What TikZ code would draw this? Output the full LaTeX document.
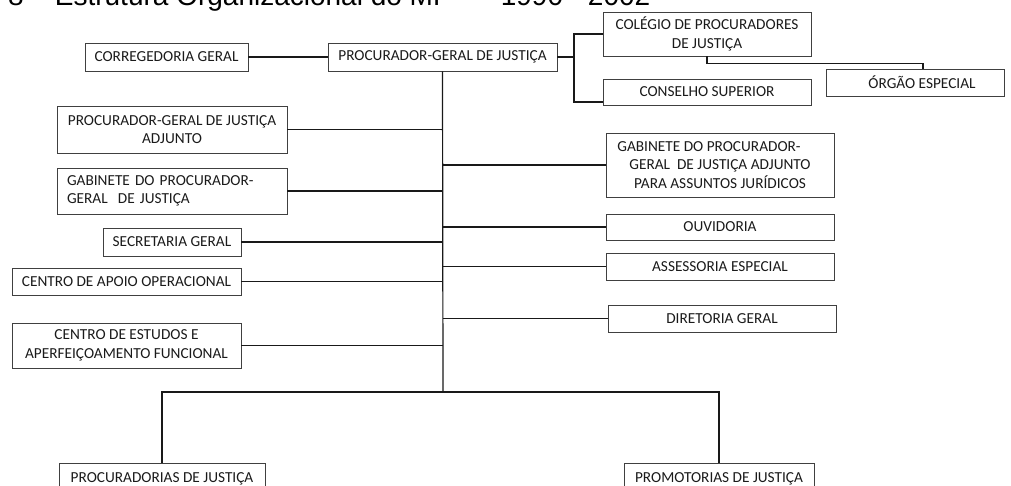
\documentclass[tikz,border=0pt]{standalone}
\usepackage{fontspec}
\setmainfont{Carlito}
\newfontfamily\titlefont{Liberation Sans}
\definecolor{boxline}{HTML}{404040}
\definecolor{inktext}{HTML}{1A1A1A}
\tikzset{
  orgbox/.style={draw=boxline, line width=0.9pt, inner sep=0pt, align=center,
    text=inktext, font=\fontsize{15.3}{18.5}\selectfont},
  conn/.style={draw=black!90, line width=1.2pt},
}
\newcommand{\orgnode}[6]{% name, cx, cy, width, height, text
  \node[orgbox, minimum width=#4pt, minimum height=#5pt] (#1) at (#2,#3) {#6};}
\begin{document}
\begin{tikzpicture}[x=1pt,y=-1pt]
\useasboundingbox (0,0) rectangle (1011,486);
\clip (0,0) rectangle (1011,486);

% heading (only its lower part lies on the page)
\node[anchor=base west, inner sep=0pt, text=black,
      font=\titlefont\fontsize{28}{30}\selectfont] (title) at (8,6)
  {8 – Estrutura Organizacional do MP\hspace{0.6em}–\hspace{0.6em}1990 - 2002};

% top level
\orgnode{corr}{166.5}{57}{163}{28}{CORREGEDORIA GERAL}
\orgnode{pgj}{442.5}{57}{229}{28}{PROCURADOR-GERAL DE JUSTIÇA}
\orgnode{col}{707}{34}{208}{44}{COLÉGIO DE PROCURADORES\\DE JUSTIÇA}
\orgnode{con}{707}{92}{208}{26}{CONSELHO SUPERIOR}
\orgnode{org}{915}{82.5}{178}{27}{\hspace*{14pt}ÓRGÃO ESPECIAL}

% left column
\orgnode{adj}{172}{129.5}{230}{47}{PROCURADOR-GERAL DE JUSTIÇA\\ADJUNTO}
\node[orgbox, align=left, text width=210pt, inner xsep=10pt, minimum height=46pt]
  (gab) at (172,191) {GABINETE DO PROCURADOR-\\GERAL~ DE JUSTIÇA};
\orgnode{sec}{172}{242}{138}{28}{SECRETARIA GERAL}
\orgnode{cao}{126.5}{281.5}{229}{27}{CENTRO DE APOIO OPERACIONAL}
\orgnode{ceaf}{126.5}{345.5}{229}{45}{CENTRO DE ESTUDOS E\\APERFEIÇOAMENTO FUNCIONAL}

% right column
\orgnode{gabj}{720}{165}{228}{64}{\hspace*{-22pt}GABINETE DO PROCURADOR-\\GERAL~ DE JUSTIÇA ADJUNTO\\PARA ASSUNTOS JURÍDICOS}
\orgnode{ouv}{720}{227}{228}{26}{OUVIDORIA}
\orgnode{ass}{720}{266.5}{228}{27}{ASSESSORIA ESPECIAL}
\orgnode{dir}{722}{318.5}{228}{27}{DIRETORIA GERAL}

% bottom level
\orgnode{pcj}{162}{478.5}{206}{31}{PROCURADORIAS DE JUSTIÇA}
\orgnode{pmj}{719}{478.5}{190}{31}{PROMOTORIAS DE JUSTIÇA}

% connectors
\coordinate (brk) at (574,57);
\coordinate (bar) at (443,392);
\draw[conn] (corr.east) -- (pgj.west);
\draw[conn] (pgj.east) -- (brk);
\draw[conn] (col.west) -| (brk) |- ([yshift=-10pt]con.west);
\draw[conn] (col.south) -- ++(0,7) -| ([xshift=8pt]org.north);
\draw[conn] (pgj.south) -- (bar);
\foreach \n in {adj,gab,sec,cao,ceaf}
  \draw[conn] (\n.east) -- (\n.east -| bar);
\foreach \n in {gabj,ouv,ass,dir}
  \draw[conn] (\n.west -| bar) -- (\n.west);
\draw[conn] (pcj.north) |- (bar) -| (pmj.north);
\end{tikzpicture}
\end{document}
